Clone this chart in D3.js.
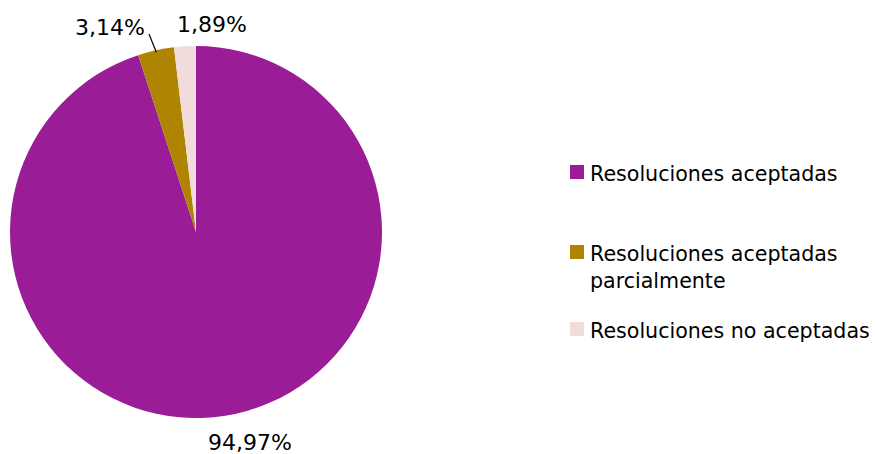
<!DOCTYPE html>
<html><head><meta charset="utf-8">
<script src="https://cdn.jsdelivr.net/npm/d3@7/dist/d3.min.js"></script>
<style>body{margin:0;background:#fff}svg{display:block}</style>
</head><body>
<svg id="c" width="876" height="454"></svg>
<script>
const categories = ["Resoluciones aceptadas", "Resoluciones aceptadas parcialmente", "Resoluciones no aceptadas"];
const values = [94.97, 3.14, 1.89];
const valueLabels = ["94,97%", "3,14%", "1,89%"];
const colors = ["#9A1C96", "#AE8400", "#F2DCDB"];

const svg = d3.select("#c");
const font = "'DejaVu Sans', Verdana, sans-serif";
const cx = 196, cy = 232, r = 186;

const pie = d3.pie().sort(null).value(d => d)(values);
const arc = d3.arc().innerRadius(0).outerRadius(r);
const g = svg.append("g").attr("transform", `translate(${cx},${cy})`);
g.selectAll("path").data(pie).join("path")
  .attr("d", arc).attr("fill", (d, i) => colors[i]);

// labels
const labelPos = [
  {x: 250 - cx, y: 450 - cy, anchor: "middle"},
  {x: 145 - cx, y: 35 - cy, anchor: "end"},
  {x: 212 - cx, y: 32 - cy, anchor: "middle"}
];
g.selectAll("text.lbl").data(pie).join("text").attr("class", "lbl")
  .attr("x", (d, i) => labelPos[i].x).attr("y", (d, i) => labelPos[i].y)
  .attr("text-anchor", (d, i) => labelPos[i].anchor)
  .attr("font-family", font).attr("font-size", 22).attr("fill", "#000")
  .text((d, i) => valueLabels[i]);

// leader line for 3,14%
const mid = (pie[1].startAngle + pie[1].endAngle) / 2;
const p0 = [Math.sin(mid) * (r - 2), -Math.cos(mid) * (r - 2)];
g.append("line")
  .attr("x1", 149 - cx).attr("y1", 34 - cy)
  .attr("x2", p0[0]).attr("y2", p0[1])
  .attr("stroke", "#000").attr("stroke-width", 1.2);

// legend
const legY = [172, 252, 329];
const leg = svg.append("g");
categories.forEach((c, i) => {
  leg.append("rect").attr("x", 570).attr("y", legY[i] - 7).attr("width", 14).attr("height", 14).attr("fill", colors[i]);
  const t = leg.append("text").attr("x", 590).attr("y", legY[i] + 9)
    .attr("font-family", font).attr("font-size", 20.6).attr("fill", "#000");
  if (i === 1) {
    t.append("tspan").attr("x", 590).text("Resoluciones aceptadas");
    t.append("tspan").attr("x", 590).attr("dy", 27).text("parcialmente");
  } else t.text(c);
});
</script>
</body></html>
